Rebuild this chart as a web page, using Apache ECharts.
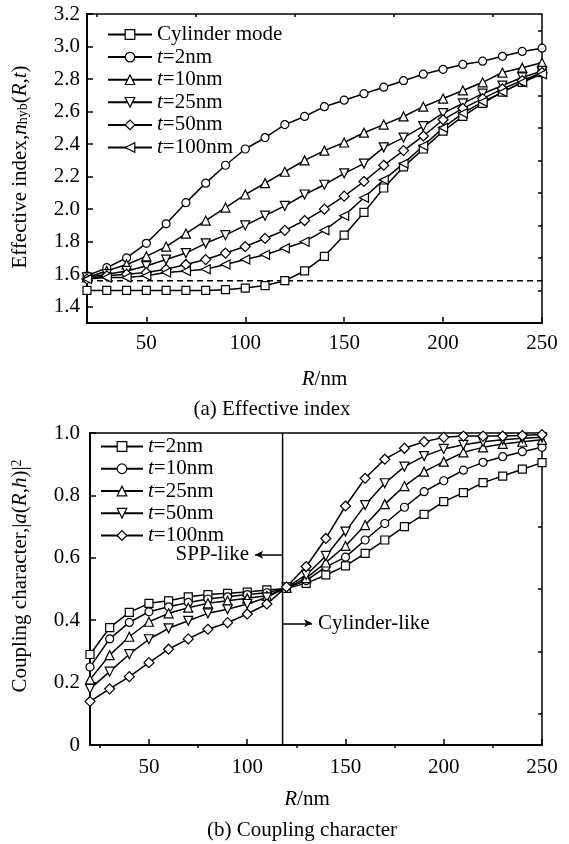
<!DOCTYPE html>
<html><head><meta charset="utf-8">
<script src="https://cdn.jsdelivr.net/npm/echarts@6/dist/echarts.min.js"></script>
<style>html,body{margin:0;padding:0;background:#fff}#c{width:569px;height:844px}</style>
</head><body><div id="c"></div>
<script>
// ---------- data ----------
const R = [20,30,40,50,60,70,80,90,100,110,120,130,140,150,160,170,180,190,200,210,220,230,240,250];
// (a) effective index
const cylinderMode = [1.50,1.50,1.50,1.50,1.50,1.50,1.50,1.505,1.515,1.53,1.56,1.62,1.71,1.84,1.98,2.13,2.26,2.37,2.48,2.57,2.65,2.72,2.78,2.84];
const nT2   = [1.59,1.64,1.70,1.79,1.91,2.04,2.16,2.27,2.37,2.44,2.52,2.57,2.63,2.67,2.71,2.75,2.79,2.83,2.86,2.89,2.91,2.94,2.97,2.99];
const nT10  = [1.58,1.62,1.66,1.71,1.77,1.85,1.93,2.01,2.09,2.16,2.23,2.30,2.36,2.41,2.47,2.52,2.57,2.63,2.68,2.73,2.78,2.84,2.87,2.90];
const nT25  = [1.58,1.60,1.62,1.65,1.69,1.73,1.79,1.84,1.90,1.96,2.02,2.09,2.15,2.22,2.28,2.38,2.44,2.51,2.59,2.65,2.71,2.76,2.81,2.85];
const nT50  = [1.57,1.59,1.60,1.61,1.63,1.66,1.69,1.73,1.77,1.82,1.87,1.93,2.00,2.08,2.17,2.27,2.36,2.45,2.55,2.62,2.68,2.74,2.79,2.84];
const nT100 = [1.57,1.58,1.58,1.59,1.61,1.62,1.63,1.66,1.69,1.72,1.76,1.80,1.87,1.96,2.07,2.18,2.28,2.39,2.50,2.59,2.66,2.72,2.78,2.83];
const dashedLevel = 1.56;
// (b) coupling character
const cT2   = [0.29,0.376,0.425,0.454,0.462,0.475,0.482,0.486,0.490,0.497,0.502,0.518,0.545,0.574,0.614,0.657,0.700,0.739,0.780,0.809,0.841,0.862,0.884,0.905];
const cT10  = [0.25,0.340,0.393,0.427,0.443,0.457,0.468,0.475,0.482,0.488,0.503,0.527,0.571,0.602,0.657,0.710,0.762,0.812,0.847,0.881,0.906,0.924,0.940,0.954];
const cT25  = [0.21,0.288,0.347,0.395,0.422,0.440,0.454,0.462,0.470,0.478,0.504,0.535,0.585,0.638,0.705,0.772,0.830,0.876,0.908,0.938,0.954,0.965,0.972,0.978];
const cT50  = [0.18,0.235,0.291,0.339,0.374,0.398,0.422,0.435,0.452,0.473,0.505,0.545,0.606,0.684,0.769,0.839,0.892,0.926,0.949,0.962,0.972,0.978,0.983,0.986];
const cT100 = [0.14,0.18,0.219,0.264,0.307,0.340,0.371,0.392,0.420,0.452,0.507,0.572,0.662,0.766,0.855,0.916,0.951,0.972,0.986,0.990,0.990,0.990,0.992,0.995];
const splitR = 118;
const sppArrowY = 0.61, sppArrowEnd = 104;
const cylArrowY = 0.39, cylArrowEnd = 133;
// ticks
const xMajor = [50,100,150,200,250];
const xMinor = [25,75,125,175,225];
const yTopMajor = [1.4,1.6,1.8,2.0,2.2,2.4,2.6,2.8,3.0,3.2];
const yTopMinor = [1.5,1.7,1.9,2.1,2.3,2.5,2.7,2.9,3.1];
const yBotMajor = [0,0.2,0.4,0.6,0.8,1.0];
const yBotMinor = [0.1,0.3,0.5,0.7,0.9];
const topNames = ['Cylinder mode','t=2nm','t=10nm','t=25nm','t=50nm','t=100nm'];
const botNames = ['b t=2nm','b t=10nm','b t=25nm','b t=50nm','b t=100nm'];

// ---------- chart ----------
const FONT = 'Liberation Serif';
const FS = 21;
const chart = echarts.init(document.getElementById('c'));
const pairs = ys => R.map((r,i)=>[r,ys[i]]);
const italic = {i:{fontStyle:'italic', fontFamily:FONT, fontSize:FS, color:'#000', lineHeight:20}};
const markStyle = {color:'#fff', borderColor:'#000', borderWidth:1.2};

function ser(name, ys, symbol, rot, g, size){
  return {type:'line', name, data:pairs(ys), xAxisIndex:g*2, yAxisIndex:g*2,
    symbol, symbolRotate:rot, symbolSize:size, showAllSymbol:true,
    lineStyle:{color:'#000', width:1.5}, itemStyle:markStyle,
    emphasis:{disabled:true}, animation:false};
}
function xAxes(g){
  return [
    {gridIndex:g, type:'value', min:20, max:250,
     axisLine:{lineStyle:{color:'#000', width:2}},
     axisTick:{inside:true, length:6, customValues:xMajor, lineStyle:{color:'#000', width:1.5}},
     axisLabel:{customValues:xMajor, color:'#000', fontFamily:FONT, fontSize:FS, margin:g?12:10},
     splitLine:{show:false},
     name:'{i|R}/nm', nameLocation:'middle', nameGap:g?44:46,
     nameTextStyle:{color:'#000', fontFamily:FONT, fontSize:FS, rich:italic, padding:g?[0,18,0,0]:[0,0,0,20]}},
    {gridIndex:g, type:'value', min:20, max:250, axisLine:{show:false},
     axisTick:{inside:true, length:3, customValues:xMinor, lineStyle:{color:'#000', width:1.5}},
     axisLabel:{show:false}, splitLine:{show:false}}
  ];
}
function yAxes(g, min, max, major, minor, fmt, margin){
  return [
    {gridIndex:g, type:'value', min, max,
     axisLine:{lineStyle:{color:'#000', width:2}},
     axisTick:{inside:true, length:6, customValues:major, lineStyle:{color:'#000', width:1.5}},
     axisLabel:{customValues:major, formatter:fmt, color:'#000', fontFamily:FONT, fontSize:FS, margin},
     splitLine:{show:false}},
    {gridIndex:g, type:'value', min, max, axisLine:{show:false},
     axisTick:{inside:true, length:4, customValues:minor, lineStyle:{color:'#000', width:1.5}},
     axisLabel:{show:false}, splitLine:{show:false}}
  ];
}
const legendFmt = n => { const s = n.replace(/^b /,''); return s.startsWith('t=') ? '{i|t}' + s.slice(1) : s; };
const legendText = {color:'#000', fontFamily:FONT, fontSize:FS, lineHeight:20, rich:italic};
const nameRich = {
  t:{fontFamily:FONT, fontSize:FS, color:'#000', lineHeight:20},
  i:{fontFamily:FONT, fontSize:FS, color:'#000', fontStyle:'italic', lineHeight:20},
  sub:{fontFamily:FONT, fontSize:14, color:'#000', lineHeight:14, verticalAlign:'bottom', padding:[7,0,0,0]},
  sup:{fontFamily:FONT, fontSize:14, color:'#000', lineHeight:14, verticalAlign:'top', padding:[0,0,7,0]}
};

const option = {
  backgroundColor:'#fff',
  animation:false,
  grid:[
    {left:87, top:14, width:455, height:309, show:true, borderColor:'#000', borderWidth:1.5},
    {left:90, top:433, width:452, height:312, show:true, borderColor:'#000', borderWidth:1.5}
  ],
  xAxis:[...xAxes(0), ...xAxes(1)],
  yAxis:[
    ...yAxes(0, 1.3, 3.2, yTopMajor, yTopMinor, v=>v.toFixed(1), 7),
    ...yAxes(1, 0, 1, yBotMajor, yBotMinor, v=> v===0?'0':v.toFixed(1), 10)
  ],
  legend:[
    {data:topNames, orient:'vertical', left:102, top:19, itemWidth:44, itemHeight:12, itemGap:1.6,
     itemStyle:markStyle, formatter:legendFmt, textStyle:legendText, selectedMode:false},
    {data:botNames, orient:'vertical', left:95, top:431, itemWidth:42, itemHeight:12, itemGap:1.25,
     itemStyle:markStyle, formatter:legendFmt, textStyle:legendText, selectedMode:false}
  ],
  graphic:[
    {type:'text', x:20, y:167, rotation:Math.PI/2,
     style:{text:'{t|Effective index,}{i|n}{sub|hyb}{t|(}{i|R}{t|,}{i|t}{t|)}', rich:nameRich, fontFamily:FONT, fontSize:FS, fill:'#000', align:'center', verticalAlign:'middle'}},
    {type:'text', x:20, y:576, rotation:Math.PI/2,
     style:{text:'{t|Coupling character,|}{i|a}{t|(}{i|R}{t|,}{i|h}{t|)|}{sup|2}', rich:nameRich, fontFamily:FONT, fontSize:FS, fill:'#000', align:'center', verticalAlign:'middle'}},
    {type:'text', x:272, y:409, style:{text:'(a) Effective index', fontFamily:FONT, fontSize:FS, fill:'#000', align:'center', verticalAlign:'middle'}},
    {type:'text', x:302, y:830, style:{text:'(b) Coupling character', fontFamily:FONT, fontSize:FS, fill:'#000', align:'center', verticalAlign:'middle'}}
  ],
  series:[
    {type:'line', name:'dashed', data:[[R[0],dashedLevel],[R[R.length-1],dashedLevel]], xAxisIndex:0, yAxisIndex:0,
     symbol:'none', lineStyle:{color:'#000', width:1.5, type:[6,4]}, emphasis:{disabled:true}, silent:true},
    ser(topNames[0], cylinderMode, 'rect', 0, 0, 8),
    ser(topNames[1], nT2, 'circle', 0, 0, 8),
    ser(topNames[2], nT10, 'triangle', 0, 0, 9),
    ser(topNames[3], nT25, 'triangle', 180, 0, 9),
    ser(topNames[4], nT50, 'diamond', 0, 0, 10),
    ser(topNames[5], nT100, 'triangle', 90, 0, 9),
    {type:'line', name:'split', data:[[splitR,0],[splitR,1]], xAxisIndex:2, yAxisIndex:2,
     symbol:'none', lineStyle:{color:'#000', width:1.5}, emphasis:{disabled:true}, silent:true, z:1,
     markLine:{silent:true, symbol:['none','arrow'], symbolSize:[6,8], animation:false,
       lineStyle:{color:'#000', width:1.5, type:'solid'},
       label:{show:true, position:'end', distance:6, color:'#000', fontFamily:FONT, fontSize:FS},
       data:[
         [{coord:[splitR,sppArrowY]}, {coord:[sppArrowEnd,sppArrowY], label:{formatter:'SPP-like'}}],
         [{coord:[splitR,cylArrowY]}, {coord:[cylArrowEnd,cylArrowY], label:{formatter:'Cylinder-like'}}]
       ]}},
    ser(botNames[0], cT2, 'rect', 0, 1, 8),
    ser(botNames[1], cT10, 'circle', 0, 1, 8),
    ser(botNames[2], cT25, 'triangle', 0, 1, 9),
    ser(botNames[3], cT50, 'triangle', 180, 1, 9),
    ser(botNames[4], cT100, 'diamond', 0, 1, 10)
  ]
};
chart.setOption(option);
</script>
</body></html>
